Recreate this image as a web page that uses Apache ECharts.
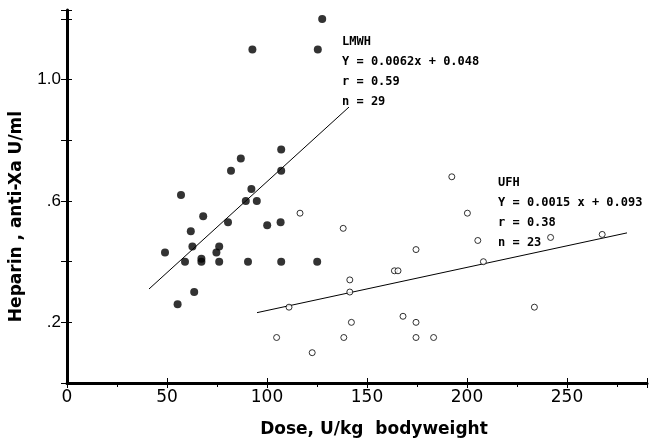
<!DOCTYPE html>
<html lang="en">
<head>
<meta charset="UTF-8" />
<title>Heparin anti-Xa vs dose</title>
<script src="https://cdn.jsdelivr.net/npm/echarts@6/dist/echarts.min.js"></script>
<style>
  * { margin: 0; padding: 0; }
  html, body { width: 655px; height: 443px; background: #fff; }
</style>
</head>
<body>
<div id="main" style="width:655px;height:443px;"></div>
<script type="text/javascript">
// LMWH points [dose U/kg, anti-Xa U/ml]
var lmwhPoints = [
  [127.6, 1.20], [92.7, 1.10], [125.4, 1.10], [107.1, 0.77], [86.9, 0.74],
  [82.0, 0.70], [107.1, 0.70], [92.2, 0.64], [89.4, 0.60], [94.9, 0.60],
  [57.0, 0.62], [68.1, 0.55], [80.5, 0.53], [106.8, 0.53], [100.1, 0.52],
  [90.5, 0.40], [107.1, 0.40], [125.1, 0.40], [61.9, 0.50], [62.7, 0.45],
  [49.0, 0.43], [76.1, 0.45], [74.7, 0.43], [59.0, 0.40], [67.2, 0.41],
  [67.2, 0.40], [76.1, 0.40], [63.6, 0.30], [55.3, 0.26]
];
// UFH points
var ufhPoints = [
  [116.5, 0.56], [138.1, 0.51], [174.5, 0.44], [163.7, 0.37], [165.5, 0.37],
  [141.4, 0.34], [141.4, 0.30], [111.0, 0.25], [142.2, 0.20], [168.0, 0.22],
  [174.5, 0.20], [104.8, 0.15], [138.4, 0.15], [174.5, 0.15], [183.3, 0.15],
  [122.6, 0.10], [192.4, 0.68], [200.2, 0.56], [205.4, 0.47], [241.8, 0.48],
  [208.2, 0.40], [267.6, 0.49], [233.7, 0.25]
];
// regression line end points
var lmwhLine = [[41, 0.31], [141, 0.91]];
var ufhLine = [[95, 0.232], [280, 0.495]];
var lmwhText = ["LMWH", "Y = 0.0062x + 0.048", "r = 0.59", "n = 29"];
var ufhText = ["UFH", "Y = 0.0015 x + 0.093", "r = 0.38", "n = 23"];

var myChart = echarts.init(document.getElementById("main"));

function annot(lines, x, y) {
  var out = [];
  for (var i = 0; i < lines.length; i++) {
    out.push({
      type: "text",
      left: x,
      top: y + i * 20 - 7,
      style: {
        text: lines[i],
        fill: "#000",
        font: "bold 12px 'DejaVu Sans Mono'"
      }
    });
  }
  return out;
}

var axisFont = "DejaVu Sans";
var option = {
  backgroundColor: "#fff",
  animation: false,
  grid: { left: 66, right: 8, top: 10, bottom: 54 },
  xAxis: [
    {
      type: "value",
      min: 0,
      max: 290,
      interval: 50,
      name: "Dose, U/kg  bodyweight",
      nameLocation: "middle",
      nameGap: 38,
      nameTextStyle: {
        color: "#000", fontSize: 17, fontWeight: "bold", fontFamily: axisFont,
        padding: [0, 0, 0, 34]
      },
      axisLine: { lineStyle: { color: "#000", width: 3 } },
      axisTick: { length: 5, lineStyle: { color: "#000", width: 1 } },
      minorTick: { show: true, splitNumber: 2, length: 4, lineStyle: { color: "#000" } },
      axisLabel: {
        color: "#000", fontSize: 17, fontFamily: axisFont, margin: 6,
        showMaxLabel: false
      },
      splitLine: { show: false }
    },
    {
      type: "value",
      min: 0,
      max: 290,
      interval: 50,
      position: "bottom",
      axisLine: { show: false },
      axisTick: { inside: true, length: 5, lineStyle: { color: "#000", width: 1 } },
      axisLabel: { show: false },
      splitLine: { show: false }
    }
  ],
  yAxis: [
    {
      type: "value",
      min: 0,
      max: 1.23,
      interval: 0.2,
      name: "Heparin , anti-Xa U/ml",
      nameLocation: "middle",
      nameGap: 42,
      nameRotate: 90,
      nameTextStyle: {
        color: "#000", fontSize: 17, fontWeight: "bold", fontFamily: axisFont,
        padding: [0, 40, 0, 0]
      },
      axisLine: { show: true, lineStyle: { color: "#000", width: 3 } },
      axisTick: { show: true, length: 6, lineStyle: { color: "#000", width: 1 } },
      axisLabel: {
        color: "#000", fontSize: 17, fontFamily: "Liberation Sans", margin: 6,
        formatter: function (v) {
          var r = Math.round(v * 10) / 10;
          if (r === 1) return "1.0";
          if (r === 0.6) return ".6";
          if (r === 0.2) return ".2";
          return "";
        }
      },
      splitLine: { show: false }
    },
    {
      type: "value",
      min: 0,
      max: 1.23,
      interval: 0.2,
      position: "left",
      axisLine: { show: false },
      axisTick: { show: true, inside: true, length: 5, lineStyle: { color: "#000", width: 1 } },
      axisLabel: { show: false },
      splitLine: { show: false }
    }
  ],
  graphic: annot(lmwhText, 342, 43).concat(annot(ufhText, 498, 184)),
  series: [
    {
      type: "line",
      data: lmwhLine,
      symbol: "none",
      lineStyle: { color: "#000", width: 1 },
      z: 1
    },
    {
      type: "line",
      data: ufhLine,
      symbol: "none",
      lineStyle: { color: "#000", width: 1 },
      z: 1
    },
    {
      type: "scatter",
      data: lmwhPoints,
      symbol: "circle",
      symbolSize: 8,
      itemStyle: { color: "#000" },
      z: 2
    },
    {
      type: "scatter",
      data: ufhPoints,
      symbol: "circle",
      symbolSize: 6,
      itemStyle: { color: "#fff", borderColor: "#000", borderWidth: 1 },
      z: 2
    }
  ]
};
myChart.setOption(option);
</script>
</body>
</html>
